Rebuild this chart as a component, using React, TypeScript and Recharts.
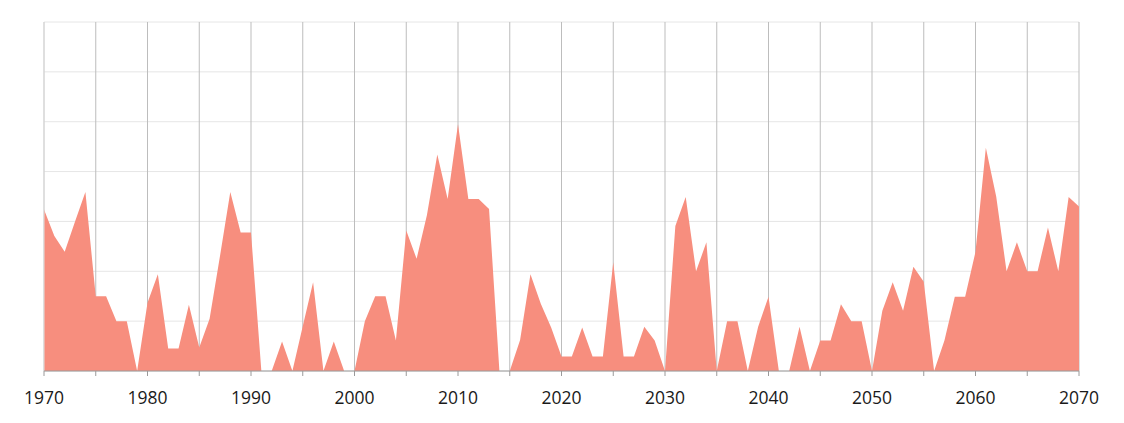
import { AreaChart, Area, XAxis, YAxis, CartesianGrid, ReferenceLine } from 'recharts'

const years = [
  1970, 1971, 1972, 1973, 1974, 1975, 1976, 1977, 1978, 1979,
  1980, 1981, 1982, 1983, 1984, 1985, 1986, 1987, 1988, 1989,
  1990, 1991, 1992, 1993, 1994, 1995, 1996, 1997, 1998, 1999,
  2000, 2001, 2002, 2003, 2004, 2005, 2006, 2007, 2008, 2009,
  2010, 2011, 2012, 2013, 2014, 2015, 2016, 2017, 2018, 2019,
  2020, 2021, 2022, 2023, 2024, 2025, 2026, 2027, 2028, 2029,
  2030, 2031, 2032, 2033, 2034, 2035, 2036, 2037, 2038, 2039,
  2040, 2041, 2042, 2043, 2044, 2045, 2046, 2047, 2048, 2049,
  2050, 2051, 2052, 2053, 2054, 2055, 2056, 2057, 2058, 2059,
  2060, 2061, 2062, 2063, 2064, 2065, 2066, 2067, 2068, 2069,
  2070,
]

const values = [
  32.4, 27.1, 23.9, 30, 35.9, 15, 15, 10, 10, 0,
  13.7, 19.4, 4.5, 4.5, 13.3, 4.7, 10.5, 23, 35.9, 27.8,
  27.8, 0, 0, 5.9, 0, 9, 17.8, 0, 5.9, 0,
  0, 10, 15, 15, 6.1, 28.2, 22.5, 31.3, 43.4, 34.5,
  49.5, 34.5, 34.5, 32.5, 0, 0, 6.2, 19.4, 13.5, 8.7,
  2.9, 2.9, 8.7, 2.9, 2.9, 21.8, 2.9, 2.9, 8.9, 6.1,
  0, 29.1, 34.9, 20, 25.8, 0, 10, 10, 0, 8.9,
  14.9, 0, 0, 8.9, 0, 6.1, 6.1, 13.4, 10, 10,
  0, 12.1, 17.8, 12.1, 20.9, 17.9, 0, 6.1, 14.9, 14.9,
  23.9, 44.8, 35, 20, 25.8, 20, 20, 28.8, 20, 34.9,
  33,
]

const xTicks = [
  1970, 1975, 1980, 1985, 1990, 1995, 2000, 2005, 2010, 2015, 2020,
  2025, 2030, 2035, 2040, 2045, 2050, 2055, 2060, 2065, 2070,
]
const yTicks = [0, 10, 20, 30, 40, 50, 60, 70]

const data = years.map((year, i) => ({ year, value: values[i] }))

export default function App() {
  return (
    <div style={{ position: 'absolute', left: 0, top: 0, background: '#fff' }}>
      <AreaChart
        width={1124}
        height={423}
        data={data}
        margin={{ top: 22, right: 45, left: 44, bottom: 0 }}
      >
        <CartesianGrid vertical={false} stroke="#e6e6e6" strokeWidth={1} />
        <CartesianGrid horizontal={false} stroke="#bdbdbd" strokeWidth={1} />
        <ReferenceLine x={1970} stroke="#e0e0e0" />
        <YAxis hide domain={[0, 70]} ticks={yTicks} />
        <Area
          type="linear"
          dataKey="value"
          stroke="none"
          fill="#f78e7e"
          fillOpacity={1}
          isAnimationActive={false}
        />
        <XAxis
          dataKey="year"
          type="number"
          domain={[1970, 2070]}
          ticks={xTicks}
          interval={0}
          height={52}
          tickSize={5}
          tickMargin={16}
          axisLine={{ stroke: '#9a9a9a' }}
          tickLine={{ stroke: '#9a9a9a' }}
          tick={{ fill: '#1a1a1a', fontSize: 17.5, fontFamily: 'Open Sans, sans-serif' }}
          tickFormatter={(v: number) => (v % 10 === 0 ? String(v) : '')}
        />
      </AreaChart>
    </div>
  )
}
